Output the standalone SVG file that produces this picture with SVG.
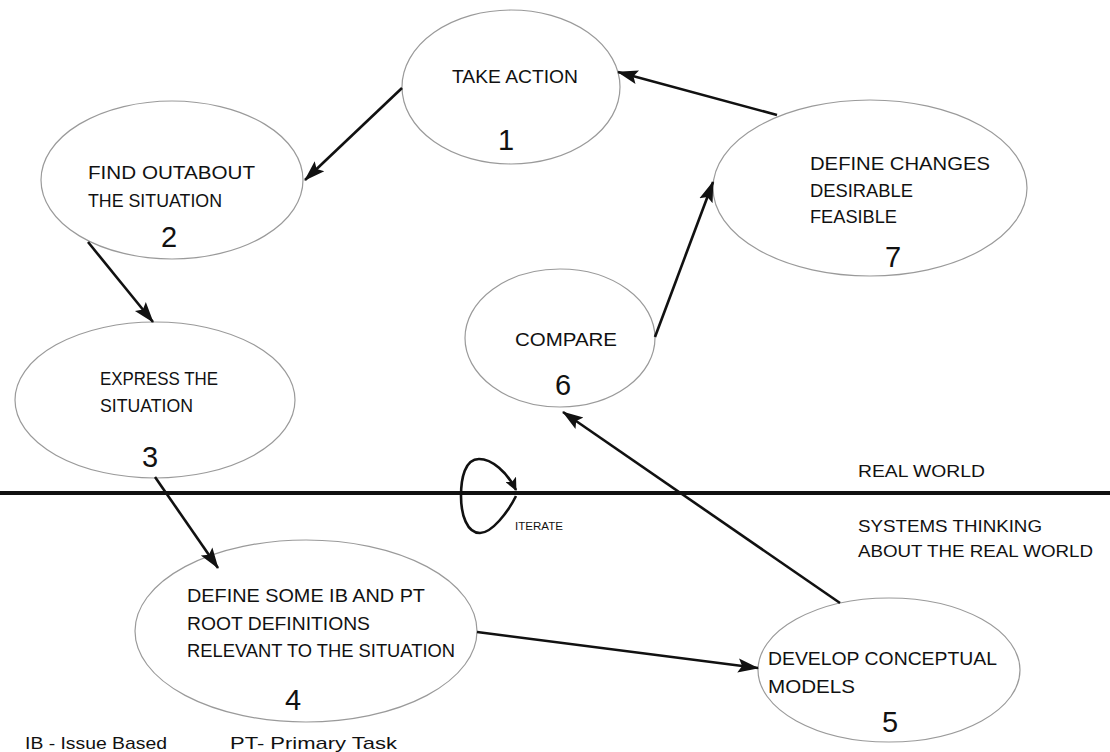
<svg xmlns="http://www.w3.org/2000/svg" width="1110" height="752" viewBox="0 0 1110 752">
<defs>
<style>
.node ellipse{fill:#fff;stroke:#9a9a9a;stroke-width:1.2}
.lbl{font-family:"Liberation Sans",Arial,sans-serif;font-size:18px;fill:#111}
.num{font-family:"Liberation Sans",Arial,sans-serif;font-size:29px;fill:#111;text-anchor:middle}
.side{font-family:"Liberation Sans",Arial,sans-serif;font-size:17px;fill:#111}
.conn{stroke:#111;stroke-width:2.6;fill:none}
</style>
<marker id="ah" markerUnits="userSpaceOnUse" markerWidth="22" markerHeight="16" refX="20" refY="8" orient="auto">
<path d="M0,1 L21,8 L0,15 L4,8 z" fill="#111"/>
</marker>
<marker id="ahs" markerUnits="userSpaceOnUse" markerWidth="14" markerHeight="12" refX="12" refY="6" orient="auto">
<path d="M0,0 L13,6 L0,12 L3,6 z" fill="#111"/>
</marker>
</defs>
<rect width="1110" height="752" fill="#fff"/>

<line x1="0" y1="493" x2="1110" y2="493" stroke="#111" stroke-width="4"/>

<g id="n1" class="node">
<ellipse cx="511" cy="87" rx="109" ry="77"/>
<text class="lbl" x="452" y="83" textLength="126" lengthAdjust="spacingAndGlyphs">TAKE ACTION</text>
<text class="num" x="506" y="150">1</text>
</g>
<g id="n2" class="node">
<ellipse cx="172" cy="180" rx="131" ry="79"/>
<text class="lbl" x="88" y="179" textLength="167" lengthAdjust="spacingAndGlyphs">FIND OUTABOUT</text>
<text class="lbl" x="88" y="207" textLength="134" lengthAdjust="spacingAndGlyphs">THE SITUATION</text>
<text class="num" x="169" y="247">2</text>
</g>
<g id="n3" class="node">
<ellipse cx="155" cy="400" rx="140" ry="78"/>
<text class="lbl" x="100" y="385" textLength="118" lengthAdjust="spacingAndGlyphs">EXPRESS THE</text>
<text class="lbl" x="100" y="412" textLength="93" lengthAdjust="spacingAndGlyphs">SITUATION</text>
<text class="num" x="150" y="467">3</text>
</g>
<g id="n4" class="node">
<ellipse cx="306" cy="631" rx="171" ry="91"/>
<text class="lbl" x="187" y="602" textLength="238" lengthAdjust="spacingAndGlyphs">DEFINE SOME IB AND PT</text>
<text class="lbl" x="187" y="630" textLength="183" lengthAdjust="spacingAndGlyphs">ROOT DEFINITIONS</text>
<text class="lbl" x="187" y="657" textLength="268" lengthAdjust="spacingAndGlyphs">RELEVANT TO THE SITUATION</text>
<text class="num" x="293" y="710">4</text>
</g>
<g id="n5" class="node">
<ellipse cx="889" cy="670" rx="131" ry="72"/>
<text class="lbl" x="768" y="665" textLength="229" lengthAdjust="spacingAndGlyphs">DEVELOP CONCEPTUAL</text>
<text class="lbl" x="768" y="693" textLength="87" lengthAdjust="spacingAndGlyphs">MODELS</text>
<text class="num" x="890" y="732">5</text>
</g>
<g id="n6" class="node">
<ellipse cx="560" cy="338" rx="95" ry="69"/>
<text class="lbl" x="515" y="346" textLength="102" lengthAdjust="spacingAndGlyphs">COMPARE</text>
<text class="num" x="563" y="395">6</text>
</g>
<g id="n7" class="node">
<ellipse cx="870" cy="188" rx="157" ry="88"/>
<text class="lbl" x="810" y="170" textLength="180" lengthAdjust="spacingAndGlyphs">DEFINE CHANGES</text>
<text class="lbl" x="810" y="197" textLength="103" lengthAdjust="spacingAndGlyphs">DESIRABLE</text>
<text class="lbl" x="810" y="223" textLength="87" lengthAdjust="spacingAndGlyphs">FEASIBLE</text>
<text class="num" x="893" y="267">7</text>
</g>

<g id="connectors">
<line class="conn" x1="777" y1="115" x2="618" y2="72" marker-end="url(#ah)"/>
<line class="conn" x1="402" y1="88" x2="305" y2="180" marker-end="url(#ah)"/>
<line class="conn" x1="88" y1="242" x2="153" y2="322" marker-end="url(#ah)"/>
<line class="conn" x1="155" y1="477" x2="218" y2="568" marker-end="url(#ah)"/>
<line class="conn" x1="477" y1="632" x2="758" y2="668" marker-end="url(#ah)"/>
<line class="conn" x1="840" y1="603" x2="563" y2="412" marker-end="url(#ah)"/>
<line class="conn" x1="655" y1="337" x2="713" y2="182" marker-end="url(#ah)"/>
<path class="conn" d="M516 496 C508 512 492 533 480 533 C467 533 461 515 461 496 C461 478 465 459 479 459 C492 459 507 472 516 490" marker-end="url(#ahs)"/>
</g>

<g id="labels">
<text x="515" y="530" font-family="Liberation Sans, Arial, sans-serif" font-size="10" fill="#111" textLength="48" lengthAdjust="spacingAndGlyphs">ITERATE</text>
<text class="side" x="858" y="477" textLength="127" lengthAdjust="spacingAndGlyphs">REAL WORLD</text>
<text class="side" x="858" y="532" textLength="184" lengthAdjust="spacingAndGlyphs">SYSTEMS THINKING</text>
<text class="side" x="858" y="557" textLength="235" lengthAdjust="spacingAndGlyphs">ABOUT THE REAL WORLD</text>
<text class="side" x="25" y="749" textLength="142" lengthAdjust="spacingAndGlyphs">IB - Issue Based</text>
<text class="side" x="230" y="749" textLength="167" lengthAdjust="spacingAndGlyphs">PT- Primary Task</text>
</g>
</svg>
